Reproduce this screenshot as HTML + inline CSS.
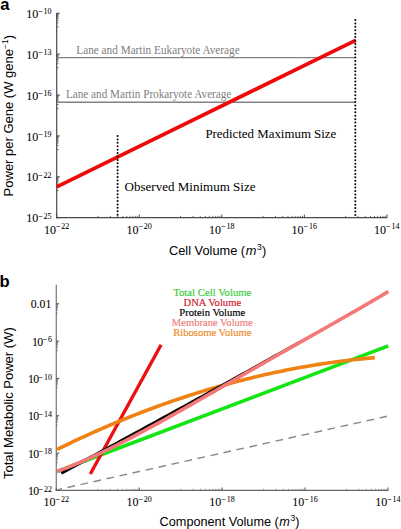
<!DOCTYPE html>
<html><head><meta charset="utf-8"><style>
html,body{margin:0;padding:0;background:#fff;}
body{width:401px;height:529px;overflow:hidden;}
svg{display:block;}
</style></head><body>
<svg width="401" height="529" viewBox="0 0 401 529">
<rect width="401" height="529" fill="#fff"/>
<line x1="56.70" y1="13.00" x2="56.70" y2="218.30" stroke="#4a4a4a" stroke-width="1.2" />
<line x1="56.10" y1="217.70" x2="387.40" y2="217.70" stroke="#4a4a4a" stroke-width="1.2" />
<line x1="56.70" y1="13.20" x2="59.90" y2="13.20" stroke="#4a4a4a" stroke-width="1.0" />
<line x1="56.70" y1="26.83" x2="58.50" y2="26.83" stroke="#4a4a4a" stroke-width="0.8" />
<line x1="56.70" y1="22.73" x2="58.50" y2="22.73" stroke="#4a4a4a" stroke-width="0.8" />
<line x1="56.70" y1="20.33" x2="58.50" y2="20.33" stroke="#4a4a4a" stroke-width="0.8" />
<line x1="56.70" y1="18.63" x2="58.50" y2="18.63" stroke="#4a4a4a" stroke-width="0.8" />
<line x1="56.70" y1="17.30" x2="58.50" y2="17.30" stroke="#4a4a4a" stroke-width="0.8" />
<line x1="56.70" y1="16.22" x2="58.50" y2="16.22" stroke="#4a4a4a" stroke-width="0.8" />
<line x1="56.70" y1="15.31" x2="58.50" y2="15.31" stroke="#4a4a4a" stroke-width="0.8" />
<line x1="56.70" y1="14.52" x2="58.50" y2="14.52" stroke="#4a4a4a" stroke-width="0.8" />
<line x1="56.70" y1="13.82" x2="58.50" y2="13.82" stroke="#4a4a4a" stroke-width="0.8" />
<text x="51.60" y="17.80" text-anchor="end" font-family='"Liberation Serif", serif' font-size="12" fill="#000" stroke="#000" stroke-width="0.05"><tspan>10</tspan><tspan dy="-3.8" font-size="8">−</tspan><tspan dx="0.9" font-size="8">10</tspan></text>
<line x1="56.70" y1="54.10" x2="59.90" y2="54.10" stroke="#4a4a4a" stroke-width="1.0" />
<line x1="56.70" y1="67.73" x2="58.50" y2="67.73" stroke="#4a4a4a" stroke-width="0.8" />
<line x1="56.70" y1="63.63" x2="58.50" y2="63.63" stroke="#4a4a4a" stroke-width="0.8" />
<line x1="56.70" y1="61.23" x2="58.50" y2="61.23" stroke="#4a4a4a" stroke-width="0.8" />
<line x1="56.70" y1="59.53" x2="58.50" y2="59.53" stroke="#4a4a4a" stroke-width="0.8" />
<line x1="56.70" y1="58.20" x2="58.50" y2="58.20" stroke="#4a4a4a" stroke-width="0.8" />
<line x1="56.70" y1="57.12" x2="58.50" y2="57.12" stroke="#4a4a4a" stroke-width="0.8" />
<line x1="56.70" y1="56.21" x2="58.50" y2="56.21" stroke="#4a4a4a" stroke-width="0.8" />
<line x1="56.70" y1="55.42" x2="58.50" y2="55.42" stroke="#4a4a4a" stroke-width="0.8" />
<line x1="56.70" y1="54.72" x2="58.50" y2="54.72" stroke="#4a4a4a" stroke-width="0.8" />
<text x="51.60" y="58.70" text-anchor="end" font-family='"Liberation Serif", serif' font-size="12" fill="#000" stroke="#000" stroke-width="0.05"><tspan>10</tspan><tspan dy="-3.8" font-size="8">−</tspan><tspan dx="0.9" font-size="8">13</tspan></text>
<line x1="56.70" y1="95.00" x2="59.90" y2="95.00" stroke="#4a4a4a" stroke-width="1.0" />
<line x1="56.70" y1="108.63" x2="58.50" y2="108.63" stroke="#4a4a4a" stroke-width="0.8" />
<line x1="56.70" y1="104.53" x2="58.50" y2="104.53" stroke="#4a4a4a" stroke-width="0.8" />
<line x1="56.70" y1="102.13" x2="58.50" y2="102.13" stroke="#4a4a4a" stroke-width="0.8" />
<line x1="56.70" y1="100.43" x2="58.50" y2="100.43" stroke="#4a4a4a" stroke-width="0.8" />
<line x1="56.70" y1="99.10" x2="58.50" y2="99.10" stroke="#4a4a4a" stroke-width="0.8" />
<line x1="56.70" y1="98.02" x2="58.50" y2="98.02" stroke="#4a4a4a" stroke-width="0.8" />
<line x1="56.70" y1="97.11" x2="58.50" y2="97.11" stroke="#4a4a4a" stroke-width="0.8" />
<line x1="56.70" y1="96.32" x2="58.50" y2="96.32" stroke="#4a4a4a" stroke-width="0.8" />
<line x1="56.70" y1="95.62" x2="58.50" y2="95.62" stroke="#4a4a4a" stroke-width="0.8" />
<text x="51.60" y="99.60" text-anchor="end" font-family='"Liberation Serif", serif' font-size="12" fill="#000" stroke="#000" stroke-width="0.05"><tspan>10</tspan><tspan dy="-3.8" font-size="8">−</tspan><tspan dx="0.9" font-size="8">16</tspan></text>
<line x1="56.70" y1="135.90" x2="59.90" y2="135.90" stroke="#4a4a4a" stroke-width="1.0" />
<line x1="56.70" y1="149.53" x2="58.50" y2="149.53" stroke="#4a4a4a" stroke-width="0.8" />
<line x1="56.70" y1="145.43" x2="58.50" y2="145.43" stroke="#4a4a4a" stroke-width="0.8" />
<line x1="56.70" y1="143.03" x2="58.50" y2="143.03" stroke="#4a4a4a" stroke-width="0.8" />
<line x1="56.70" y1="141.33" x2="58.50" y2="141.33" stroke="#4a4a4a" stroke-width="0.8" />
<line x1="56.70" y1="140.00" x2="58.50" y2="140.00" stroke="#4a4a4a" stroke-width="0.8" />
<line x1="56.70" y1="138.92" x2="58.50" y2="138.92" stroke="#4a4a4a" stroke-width="0.8" />
<line x1="56.70" y1="138.01" x2="58.50" y2="138.01" stroke="#4a4a4a" stroke-width="0.8" />
<line x1="56.70" y1="137.22" x2="58.50" y2="137.22" stroke="#4a4a4a" stroke-width="0.8" />
<line x1="56.70" y1="136.52" x2="58.50" y2="136.52" stroke="#4a4a4a" stroke-width="0.8" />
<text x="51.60" y="140.50" text-anchor="end" font-family='"Liberation Serif", serif' font-size="12" fill="#000" stroke="#000" stroke-width="0.05"><tspan>10</tspan><tspan dy="-3.8" font-size="8">−</tspan><tspan dx="0.9" font-size="8">19</tspan></text>
<line x1="56.70" y1="176.80" x2="59.90" y2="176.80" stroke="#4a4a4a" stroke-width="1.0" />
<line x1="56.70" y1="190.43" x2="58.50" y2="190.43" stroke="#4a4a4a" stroke-width="0.8" />
<line x1="56.70" y1="186.33" x2="58.50" y2="186.33" stroke="#4a4a4a" stroke-width="0.8" />
<line x1="56.70" y1="183.93" x2="58.50" y2="183.93" stroke="#4a4a4a" stroke-width="0.8" />
<line x1="56.70" y1="182.23" x2="58.50" y2="182.23" stroke="#4a4a4a" stroke-width="0.8" />
<line x1="56.70" y1="180.90" x2="58.50" y2="180.90" stroke="#4a4a4a" stroke-width="0.8" />
<line x1="56.70" y1="179.82" x2="58.50" y2="179.82" stroke="#4a4a4a" stroke-width="0.8" />
<line x1="56.70" y1="178.91" x2="58.50" y2="178.91" stroke="#4a4a4a" stroke-width="0.8" />
<line x1="56.70" y1="178.12" x2="58.50" y2="178.12" stroke="#4a4a4a" stroke-width="0.8" />
<line x1="56.70" y1="177.42" x2="58.50" y2="177.42" stroke="#4a4a4a" stroke-width="0.8" />
<text x="51.60" y="181.40" text-anchor="end" font-family='"Liberation Serif", serif' font-size="12" fill="#000" stroke="#000" stroke-width="0.05"><tspan>10</tspan><tspan dy="-3.8" font-size="8">−</tspan><tspan dx="0.9" font-size="8">22</tspan></text>
<line x1="56.70" y1="217.70" x2="59.90" y2="217.70" stroke="#4a4a4a" stroke-width="1.0" />
<text x="51.60" y="222.30" text-anchor="end" font-family='"Liberation Serif", serif' font-size="12" fill="#000" stroke="#000" stroke-width="0.05"><tspan>10</tspan><tspan dy="-3.8" font-size="8">−</tspan><tspan dx="0.9" font-size="8">25</tspan></text>
<line x1="56.70" y1="217.70" x2="56.70" y2="214.50" stroke="#4a4a4a" stroke-width="1.0" />
<text x="56.60" y="233.70" text-anchor="middle" font-family='"Liberation Serif", serif' font-size="12" fill="#000" stroke="#000" stroke-width="0.05"><tspan>10</tspan><tspan dy="-4.4" font-size="8">−</tspan><tspan dx="0.9" font-size="8">22</tspan></text>
<line x1="139.25" y1="217.70" x2="139.25" y2="214.50" stroke="#4a4a4a" stroke-width="1.0" />
<line x1="97.97" y1="217.70" x2="97.97" y2="215.90" stroke="#4a4a4a" stroke-width="0.8" />
<line x1="110.40" y1="217.70" x2="110.40" y2="215.90" stroke="#4a4a4a" stroke-width="0.8" />
<line x1="117.67" y1="217.70" x2="117.67" y2="215.90" stroke="#4a4a4a" stroke-width="0.8" />
<line x1="122.83" y1="217.70" x2="122.83" y2="215.90" stroke="#4a4a4a" stroke-width="0.8" />
<line x1="126.82" y1="217.70" x2="126.82" y2="215.90" stroke="#4a4a4a" stroke-width="0.8" />
<line x1="130.09" y1="217.70" x2="130.09" y2="215.90" stroke="#4a4a4a" stroke-width="0.8" />
<line x1="132.86" y1="217.70" x2="132.86" y2="215.90" stroke="#4a4a4a" stroke-width="0.8" />
<line x1="135.25" y1="217.70" x2="135.25" y2="215.90" stroke="#4a4a4a" stroke-width="0.8" />
<line x1="137.36" y1="217.70" x2="137.36" y2="215.90" stroke="#4a4a4a" stroke-width="0.8" />
<text x="139.15" y="233.70" text-anchor="middle" font-family='"Liberation Serif", serif' font-size="12" fill="#000" stroke="#000" stroke-width="0.05"><tspan>10</tspan><tspan dy="-4.4" font-size="8">−</tspan><tspan dx="0.9" font-size="8">20</tspan></text>
<line x1="221.80" y1="217.70" x2="221.80" y2="214.50" stroke="#4a4a4a" stroke-width="1.0" />
<line x1="180.52" y1="217.70" x2="180.52" y2="215.90" stroke="#4a4a4a" stroke-width="0.8" />
<line x1="192.95" y1="217.70" x2="192.95" y2="215.90" stroke="#4a4a4a" stroke-width="0.8" />
<line x1="200.22" y1="217.70" x2="200.22" y2="215.90" stroke="#4a4a4a" stroke-width="0.8" />
<line x1="205.38" y1="217.70" x2="205.38" y2="215.90" stroke="#4a4a4a" stroke-width="0.8" />
<line x1="209.37" y1="217.70" x2="209.37" y2="215.90" stroke="#4a4a4a" stroke-width="0.8" />
<line x1="212.64" y1="217.70" x2="212.64" y2="215.90" stroke="#4a4a4a" stroke-width="0.8" />
<line x1="215.41" y1="217.70" x2="215.41" y2="215.90" stroke="#4a4a4a" stroke-width="0.8" />
<line x1="217.80" y1="217.70" x2="217.80" y2="215.90" stroke="#4a4a4a" stroke-width="0.8" />
<line x1="219.91" y1="217.70" x2="219.91" y2="215.90" stroke="#4a4a4a" stroke-width="0.8" />
<text x="221.70" y="233.70" text-anchor="middle" font-family='"Liberation Serif", serif' font-size="12" fill="#000" stroke="#000" stroke-width="0.05"><tspan>10</tspan><tspan dy="-4.4" font-size="8">−</tspan><tspan dx="0.9" font-size="8">18</tspan></text>
<line x1="304.35" y1="217.70" x2="304.35" y2="214.50" stroke="#4a4a4a" stroke-width="1.0" />
<line x1="263.07" y1="217.70" x2="263.07" y2="215.90" stroke="#4a4a4a" stroke-width="0.8" />
<line x1="275.50" y1="217.70" x2="275.50" y2="215.90" stroke="#4a4a4a" stroke-width="0.8" />
<line x1="282.77" y1="217.70" x2="282.77" y2="215.90" stroke="#4a4a4a" stroke-width="0.8" />
<line x1="287.93" y1="217.70" x2="287.93" y2="215.90" stroke="#4a4a4a" stroke-width="0.8" />
<line x1="291.92" y1="217.70" x2="291.92" y2="215.90" stroke="#4a4a4a" stroke-width="0.8" />
<line x1="295.19" y1="217.70" x2="295.19" y2="215.90" stroke="#4a4a4a" stroke-width="0.8" />
<line x1="297.96" y1="217.70" x2="297.96" y2="215.90" stroke="#4a4a4a" stroke-width="0.8" />
<line x1="300.35" y1="217.70" x2="300.35" y2="215.90" stroke="#4a4a4a" stroke-width="0.8" />
<line x1="302.46" y1="217.70" x2="302.46" y2="215.90" stroke="#4a4a4a" stroke-width="0.8" />
<text x="304.25" y="233.70" text-anchor="middle" font-family='"Liberation Serif", serif' font-size="12" fill="#000" stroke="#000" stroke-width="0.05"><tspan>10</tspan><tspan dy="-4.4" font-size="8">−</tspan><tspan dx="0.9" font-size="8">16</tspan></text>
<line x1="386.90" y1="217.70" x2="386.90" y2="214.50" stroke="#4a4a4a" stroke-width="1.0" />
<line x1="345.62" y1="217.70" x2="345.62" y2="215.90" stroke="#4a4a4a" stroke-width="0.8" />
<line x1="358.05" y1="217.70" x2="358.05" y2="215.90" stroke="#4a4a4a" stroke-width="0.8" />
<line x1="365.32" y1="217.70" x2="365.32" y2="215.90" stroke="#4a4a4a" stroke-width="0.8" />
<line x1="370.48" y1="217.70" x2="370.48" y2="215.90" stroke="#4a4a4a" stroke-width="0.8" />
<line x1="374.47" y1="217.70" x2="374.47" y2="215.90" stroke="#4a4a4a" stroke-width="0.8" />
<line x1="377.74" y1="217.70" x2="377.74" y2="215.90" stroke="#4a4a4a" stroke-width="0.8" />
<line x1="380.51" y1="217.70" x2="380.51" y2="215.90" stroke="#4a4a4a" stroke-width="0.8" />
<line x1="382.90" y1="217.70" x2="382.90" y2="215.90" stroke="#4a4a4a" stroke-width="0.8" />
<line x1="385.01" y1="217.70" x2="385.01" y2="215.90" stroke="#4a4a4a" stroke-width="0.8" />
<text x="386.80" y="233.70" text-anchor="middle" font-family='"Liberation Serif", serif' font-size="12" fill="#000" stroke="#000" stroke-width="0.05"><tspan>10</tspan><tspan dy="-4.4" font-size="8">−</tspan><tspan dx="0.9" font-size="8">14</tspan></text>
<line x1="57.20" y1="57.60" x2="355.30" y2="57.60" stroke="#828282" stroke-width="1.4" />
<line x1="57.20" y1="102.30" x2="355.30" y2="102.30" stroke="#828282" stroke-width="1.4" />
<line x1="56.70" y1="186.90" x2="355.60" y2="40.30" stroke="#ee0a0a" stroke-width="3.7" />
<line x1="117.6" y1="136" x2="117.6" y2="217.6" stroke="#000" stroke-width="2.0" stroke-linecap="round" stroke-dasharray="0 3.42"/>
<line x1="355.3" y1="20" x2="355.3" y2="217.6" stroke="#000" stroke-width="2.0" stroke-linecap="round" stroke-dasharray="0 3.42"/>
<text x="76.3" y="53.5" font-family='"Liberation Serif", serif' font-size="11.8" fill="#808080" textLength="163.4" lengthAdjust="spacingAndGlyphs">Lane and Martin Eukaryote Average</text>
<text x="66.0" y="97.9" font-family='"Liberation Serif", serif' font-size="11.8" fill="#808080" textLength="165.3" lengthAdjust="spacingAndGlyphs">Lane and Martin Prokaryote Average</text>
<text x="205.4" y="138.0" font-family='"Liberation Serif", serif' font-size="12.9" fill="#000" textLength="130.9" lengthAdjust="spacingAndGlyphs">Predicted Maximum Size</text>
<text x="124.6" y="191.4" font-family='"Liberation Serif", serif' font-size="12.9" fill="#000" textLength="130.9" lengthAdjust="spacingAndGlyphs">Observed Minimum Size</text>
<text x="169.0" y="254.8" font-family='"Liberation Sans", sans-serif' font-size="12.8" fill="#000">Cell Volume (<tspan dx="0.6" font-style="italic">m</tspan><tspan dx="0.7" dy="-4.8" font-size="8.5">3</tspan><tspan dx="0.3" dy="4.8">)</tspan></text>
<text transform="translate(12.9,196.4) rotate(-90)" x="0" y="0" font-family='"Liberation Sans", sans-serif' font-size="13" fill="#000">Power per Gene (W gene<tspan dy="-4.8" font-size="8.5">−1</tspan><tspan dy="4.8">)</tspan></text>
<text x="0.2" y="9.8" font-family='"Liberation Sans", sans-serif' font-weight="bold" font-size="16.6">a</text>
<line x1="56.30" y1="284.80" x2="56.30" y2="491.05" stroke="#808080" stroke-width="1.3" />
<line x1="55.70" y1="490.45" x2="388.40" y2="490.45" stroke="#686868" stroke-width="1.3" />
<line x1="56.30" y1="303.80" x2="59.30" y2="303.80" stroke="#555" stroke-width="1.0" />
<line x1="56.30" y1="313.13" x2="57.90" y2="313.13" stroke="#666" stroke-width="0.7" />
<line x1="56.30" y1="310.32" x2="57.90" y2="310.32" stroke="#666" stroke-width="0.7" />
<line x1="56.30" y1="308.68" x2="57.90" y2="308.68" stroke="#666" stroke-width="0.7" />
<line x1="56.30" y1="307.51" x2="57.90" y2="307.51" stroke="#666" stroke-width="0.7" />
<line x1="56.30" y1="306.61" x2="57.90" y2="306.61" stroke="#666" stroke-width="0.7" />
<line x1="56.30" y1="305.87" x2="57.90" y2="305.87" stroke="#666" stroke-width="0.7" />
<line x1="56.30" y1="305.25" x2="57.90" y2="305.25" stroke="#666" stroke-width="0.7" />
<line x1="56.30" y1="304.70" x2="57.90" y2="304.70" stroke="#666" stroke-width="0.7" />
<line x1="56.30" y1="304.23" x2="57.90" y2="304.23" stroke="#666" stroke-width="0.7" />
<text x="51.30" y="307.60" text-anchor="end" font-family='"Liberation Serif", serif' font-size="11.8" stroke="#000" stroke-width="0.05">0.01</text>
<line x1="56.30" y1="341.13" x2="59.30" y2="341.13" stroke="#555" stroke-width="1.0" />
<line x1="56.30" y1="350.46" x2="57.90" y2="350.46" stroke="#666" stroke-width="0.7" />
<line x1="56.30" y1="347.65" x2="57.90" y2="347.65" stroke="#666" stroke-width="0.7" />
<line x1="56.30" y1="346.01" x2="57.90" y2="346.01" stroke="#666" stroke-width="0.7" />
<line x1="56.30" y1="344.84" x2="57.90" y2="344.84" stroke="#666" stroke-width="0.7" />
<line x1="56.30" y1="343.94" x2="57.90" y2="343.94" stroke="#666" stroke-width="0.7" />
<line x1="56.30" y1="343.20" x2="57.90" y2="343.20" stroke="#666" stroke-width="0.7" />
<line x1="56.30" y1="342.58" x2="57.90" y2="342.58" stroke="#666" stroke-width="0.7" />
<line x1="56.30" y1="342.03" x2="57.90" y2="342.03" stroke="#666" stroke-width="0.7" />
<line x1="56.30" y1="341.56" x2="57.90" y2="341.56" stroke="#666" stroke-width="0.7" />
<text x="51.90" y="345.73" text-anchor="end" font-family='"Liberation Serif", serif' font-size="11.8" fill="#000" stroke="#000" stroke-width="0.05"><tspan letter-spacing="-0.6">10</tspan><tspan dy="-3.4" font-size="8">−</tspan><tspan dx="0.9" font-size="8">6</tspan></text>
<line x1="56.30" y1="378.46" x2="59.30" y2="378.46" stroke="#555" stroke-width="1.0" />
<line x1="56.30" y1="387.79" x2="57.90" y2="387.79" stroke="#666" stroke-width="0.7" />
<line x1="56.30" y1="384.98" x2="57.90" y2="384.98" stroke="#666" stroke-width="0.7" />
<line x1="56.30" y1="383.34" x2="57.90" y2="383.34" stroke="#666" stroke-width="0.7" />
<line x1="56.30" y1="382.17" x2="57.90" y2="382.17" stroke="#666" stroke-width="0.7" />
<line x1="56.30" y1="381.27" x2="57.90" y2="381.27" stroke="#666" stroke-width="0.7" />
<line x1="56.30" y1="380.53" x2="57.90" y2="380.53" stroke="#666" stroke-width="0.7" />
<line x1="56.30" y1="379.91" x2="57.90" y2="379.91" stroke="#666" stroke-width="0.7" />
<line x1="56.30" y1="379.36" x2="57.90" y2="379.36" stroke="#666" stroke-width="0.7" />
<line x1="56.30" y1="378.89" x2="57.90" y2="378.89" stroke="#666" stroke-width="0.7" />
<text x="51.90" y="383.06" text-anchor="end" font-family='"Liberation Serif", serif' font-size="11.8" fill="#000" stroke="#000" stroke-width="0.05"><tspan letter-spacing="-0.6">10</tspan><tspan dy="-3.4" font-size="8">−</tspan><tspan dx="0.9" font-size="8">10</tspan></text>
<line x1="56.30" y1="415.79" x2="59.30" y2="415.79" stroke="#555" stroke-width="1.0" />
<line x1="56.30" y1="425.12" x2="57.90" y2="425.12" stroke="#666" stroke-width="0.7" />
<line x1="56.30" y1="422.31" x2="57.90" y2="422.31" stroke="#666" stroke-width="0.7" />
<line x1="56.30" y1="420.67" x2="57.90" y2="420.67" stroke="#666" stroke-width="0.7" />
<line x1="56.30" y1="419.50" x2="57.90" y2="419.50" stroke="#666" stroke-width="0.7" />
<line x1="56.30" y1="418.60" x2="57.90" y2="418.60" stroke="#666" stroke-width="0.7" />
<line x1="56.30" y1="417.86" x2="57.90" y2="417.86" stroke="#666" stroke-width="0.7" />
<line x1="56.30" y1="417.24" x2="57.90" y2="417.24" stroke="#666" stroke-width="0.7" />
<line x1="56.30" y1="416.69" x2="57.90" y2="416.69" stroke="#666" stroke-width="0.7" />
<line x1="56.30" y1="416.22" x2="57.90" y2="416.22" stroke="#666" stroke-width="0.7" />
<text x="51.90" y="420.39" text-anchor="end" font-family='"Liberation Serif", serif' font-size="11.8" fill="#000" stroke="#000" stroke-width="0.05"><tspan letter-spacing="-0.6">10</tspan><tspan dy="-3.4" font-size="8">−</tspan><tspan dx="0.9" font-size="8">14</tspan></text>
<line x1="56.30" y1="453.12" x2="59.30" y2="453.12" stroke="#555" stroke-width="1.0" />
<line x1="56.30" y1="462.45" x2="57.90" y2="462.45" stroke="#666" stroke-width="0.7" />
<line x1="56.30" y1="459.64" x2="57.90" y2="459.64" stroke="#666" stroke-width="0.7" />
<line x1="56.30" y1="458.00" x2="57.90" y2="458.00" stroke="#666" stroke-width="0.7" />
<line x1="56.30" y1="456.83" x2="57.90" y2="456.83" stroke="#666" stroke-width="0.7" />
<line x1="56.30" y1="455.93" x2="57.90" y2="455.93" stroke="#666" stroke-width="0.7" />
<line x1="56.30" y1="455.19" x2="57.90" y2="455.19" stroke="#666" stroke-width="0.7" />
<line x1="56.30" y1="454.57" x2="57.90" y2="454.57" stroke="#666" stroke-width="0.7" />
<line x1="56.30" y1="454.02" x2="57.90" y2="454.02" stroke="#666" stroke-width="0.7" />
<line x1="56.30" y1="453.55" x2="57.90" y2="453.55" stroke="#666" stroke-width="0.7" />
<text x="51.90" y="457.72" text-anchor="end" font-family='"Liberation Serif", serif' font-size="11.8" fill="#000" stroke="#000" stroke-width="0.05"><tspan letter-spacing="-0.6">10</tspan><tspan dy="-3.4" font-size="8">−</tspan><tspan dx="0.9" font-size="8">18</tspan></text>
<line x1="56.30" y1="490.45" x2="59.30" y2="490.45" stroke="#555" stroke-width="1.0" />
<text x="51.90" y="495.05" text-anchor="end" font-family='"Liberation Serif", serif' font-size="11.8" fill="#000" stroke="#000" stroke-width="0.05"><tspan letter-spacing="-0.6">10</tspan><tspan dy="-3.4" font-size="8">−</tspan><tspan dx="0.9" font-size="8">22</tspan></text>
<line x1="56.30" y1="490.45" x2="56.30" y2="487.45" stroke="#555" stroke-width="1.0" />
<text x="56.20" y="506.20" text-anchor="middle" font-family='"Liberation Serif", serif' font-size="12" fill="#000" stroke="#000" stroke-width="0.05"><tspan>10</tspan><tspan dy="-4.4" font-size="8">−</tspan><tspan dx="0.9" font-size="8">22</tspan></text>
<line x1="139.22" y1="490.45" x2="139.22" y2="487.45" stroke="#555" stroke-width="1.0" />
<line x1="97.76" y1="490.45" x2="97.76" y2="488.85" stroke="#666" stroke-width="0.7" />
<line x1="110.24" y1="490.45" x2="110.24" y2="488.85" stroke="#666" stroke-width="0.7" />
<line x1="117.55" y1="490.45" x2="117.55" y2="488.85" stroke="#666" stroke-width="0.7" />
<line x1="122.73" y1="490.45" x2="122.73" y2="488.85" stroke="#666" stroke-width="0.7" />
<line x1="126.74" y1="490.45" x2="126.74" y2="488.85" stroke="#666" stroke-width="0.7" />
<line x1="130.03" y1="490.45" x2="130.03" y2="488.85" stroke="#666" stroke-width="0.7" />
<line x1="132.80" y1="490.45" x2="132.80" y2="488.85" stroke="#666" stroke-width="0.7" />
<line x1="135.21" y1="490.45" x2="135.21" y2="488.85" stroke="#666" stroke-width="0.7" />
<line x1="137.33" y1="490.45" x2="137.33" y2="488.85" stroke="#666" stroke-width="0.7" />
<text x="139.12" y="506.20" text-anchor="middle" font-family='"Liberation Serif", serif' font-size="12" fill="#000" stroke="#000" stroke-width="0.05"><tspan>10</tspan><tspan dy="-4.4" font-size="8">−</tspan><tspan dx="0.9" font-size="8">20</tspan></text>
<line x1="222.15" y1="490.45" x2="222.15" y2="487.45" stroke="#555" stroke-width="1.0" />
<line x1="180.69" y1="490.45" x2="180.69" y2="488.85" stroke="#666" stroke-width="0.7" />
<line x1="193.17" y1="490.45" x2="193.17" y2="488.85" stroke="#666" stroke-width="0.7" />
<line x1="200.47" y1="490.45" x2="200.47" y2="488.85" stroke="#666" stroke-width="0.7" />
<line x1="205.65" y1="490.45" x2="205.65" y2="488.85" stroke="#666" stroke-width="0.7" />
<line x1="209.67" y1="490.45" x2="209.67" y2="488.85" stroke="#666" stroke-width="0.7" />
<line x1="212.95" y1="490.45" x2="212.95" y2="488.85" stroke="#666" stroke-width="0.7" />
<line x1="215.73" y1="490.45" x2="215.73" y2="488.85" stroke="#666" stroke-width="0.7" />
<line x1="218.13" y1="490.45" x2="218.13" y2="488.85" stroke="#666" stroke-width="0.7" />
<line x1="220.25" y1="490.45" x2="220.25" y2="488.85" stroke="#666" stroke-width="0.7" />
<text x="222.05" y="506.20" text-anchor="middle" font-family='"Liberation Serif", serif' font-size="12" fill="#000" stroke="#000" stroke-width="0.05"><tspan>10</tspan><tspan dy="-4.4" font-size="8">−</tspan><tspan dx="0.9" font-size="8">18</tspan></text>
<line x1="305.07" y1="490.45" x2="305.07" y2="487.45" stroke="#555" stroke-width="1.0" />
<line x1="263.61" y1="490.45" x2="263.61" y2="488.85" stroke="#666" stroke-width="0.7" />
<line x1="276.09" y1="490.45" x2="276.09" y2="488.85" stroke="#666" stroke-width="0.7" />
<line x1="283.40" y1="490.45" x2="283.40" y2="488.85" stroke="#666" stroke-width="0.7" />
<line x1="288.58" y1="490.45" x2="288.58" y2="488.85" stroke="#666" stroke-width="0.7" />
<line x1="292.59" y1="490.45" x2="292.59" y2="488.85" stroke="#666" stroke-width="0.7" />
<line x1="295.88" y1="490.45" x2="295.88" y2="488.85" stroke="#666" stroke-width="0.7" />
<line x1="298.65" y1="490.45" x2="298.65" y2="488.85" stroke="#666" stroke-width="0.7" />
<line x1="301.06" y1="490.45" x2="301.06" y2="488.85" stroke="#666" stroke-width="0.7" />
<line x1="303.18" y1="490.45" x2="303.18" y2="488.85" stroke="#666" stroke-width="0.7" />
<text x="304.98" y="506.20" text-anchor="middle" font-family='"Liberation Serif", serif' font-size="12" fill="#000" stroke="#000" stroke-width="0.05"><tspan>10</tspan><tspan dy="-4.4" font-size="8">−</tspan><tspan dx="0.9" font-size="8">16</tspan></text>
<line x1="388.00" y1="490.45" x2="388.00" y2="487.45" stroke="#555" stroke-width="1.0" />
<line x1="346.54" y1="490.45" x2="346.54" y2="488.85" stroke="#666" stroke-width="0.7" />
<line x1="359.02" y1="490.45" x2="359.02" y2="488.85" stroke="#666" stroke-width="0.7" />
<line x1="366.32" y1="490.45" x2="366.32" y2="488.85" stroke="#666" stroke-width="0.7" />
<line x1="371.50" y1="490.45" x2="371.50" y2="488.85" stroke="#666" stroke-width="0.7" />
<line x1="375.52" y1="490.45" x2="375.52" y2="488.85" stroke="#666" stroke-width="0.7" />
<line x1="378.80" y1="490.45" x2="378.80" y2="488.85" stroke="#666" stroke-width="0.7" />
<line x1="381.58" y1="490.45" x2="381.58" y2="488.85" stroke="#666" stroke-width="0.7" />
<line x1="383.98" y1="490.45" x2="383.98" y2="488.85" stroke="#666" stroke-width="0.7" />
<line x1="386.10" y1="490.45" x2="386.10" y2="488.85" stroke="#666" stroke-width="0.7" />
<text x="387.90" y="506.20" text-anchor="middle" font-family='"Liberation Serif", serif' font-size="12" fill="#000" stroke="#000" stroke-width="0.05"><tspan>10</tspan><tspan dy="-4.4" font-size="8">−</tspan><tspan dx="0.9" font-size="8">14</tspan></text>
<line x1="58" y1="489.6" x2="387" y2="416.3" stroke="#8a8a8a" stroke-width="1.45" stroke-dasharray="7.7 5.62" stroke-dashoffset="3.59"/>
<line x1="57.00" y1="471.50" x2="388.30" y2="345.90" stroke="#12e612" stroke-width="3.6" />
<line x1="90.30" y1="474.05" x2="161.10" y2="344.80" stroke="#ee1010" stroke-width="3.4" />
<path d="M57.00,449.48 L59.67,448.17 L62.34,446.86 L65.01,445.57 L67.68,444.28 L70.35,443.01 L73.02,441.74 L75.69,440.48 L78.36,439.23 L81.04,437.99 L83.71,436.76 L86.38,435.54 L89.05,434.33 L91.72,433.13 L94.39,431.93 L97.06,430.75 L99.73,429.57 L102.40,428.41 L105.07,427.25 L107.74,426.10 L110.41,424.96 L113.08,423.83 L115.75,422.71 L118.42,421.60 L121.09,420.50 L123.76,419.41 L126.44,418.32 L129.11,417.25 L131.78,416.18 L134.45,415.13 L137.12,414.08 L139.79,413.04 L142.46,412.01 L145.13,410.99 L147.80,409.98 L150.47,408.98 L153.14,407.99 L155.81,407.01 L158.48,406.03 L161.15,405.07 L163.82,404.11 L166.49,403.17 L169.16,402.23 L171.84,401.30 L174.51,400.38 L177.18,399.47 L179.85,398.57 L182.52,397.68 L185.19,396.80 L187.86,395.93 L190.53,395.07 L193.20,394.21 L195.87,393.37 L198.54,392.53 L201.21,391.70 L203.88,390.88 L206.55,390.08 L209.22,389.28 L211.89,388.49 L214.56,387.71 L217.24,386.93 L219.91,386.17 L222.58,385.42 L225.25,384.67 L227.92,383.94 L230.59,383.21 L233.26,382.50 L235.93,381.79 L238.60,381.09 L241.27,380.40 L243.94,379.72 L246.61,379.05 L249.28,378.39 L251.95,377.74 L254.62,377.09 L257.29,376.46 L259.96,375.83 L262.64,375.22 L265.31,374.61 L267.98,374.01 L270.65,373.42 L273.32,372.85 L275.99,372.28 L278.66,371.71 L281.33,371.16 L284.00,370.62 L286.67,370.09 L289.34,369.56 L292.01,369.05 L294.68,368.54 L297.35,368.05 L300.02,367.56 L302.69,367.08 L305.36,366.61 L308.04,366.15 L310.71,365.70 L313.38,365.26 L316.05,364.83 L318.72,364.40 L321.39,363.99 L324.06,363.58 L326.73,363.19 L329.40,362.80 L332.07,362.43 L334.74,362.06 L337.41,361.70 L340.08,361.35 L342.75,361.01 L345.42,360.68 L348.09,360.35 L350.76,360.04 L353.44,359.74 L356.11,359.44 L358.78,359.16 L361.45,358.88 L364.12,358.61 L366.79,358.35 L369.46,358.11 L372.13,357.87 L374.80,357.64" fill="none" stroke="#f08214" stroke-width="3.6"/>
<path d="M61.20,473.19 L66.07,470.57 L70.95,467.95 L75.82,465.33 L80.69,462.70 L85.57,460.07 L90.44,457.44 L95.31,454.81 L100.19,452.17 L105.06,449.53 L109.93,446.89 L114.81,444.25 L119.68,441.61 L124.56,438.96 L129.43,436.31 L134.30,433.66 L139.18,431.00 L144.05,428.34 L148.92,425.68 L153.80,423.02 L158.67,420.36 L163.54,417.69 L168.42,415.02 L173.29,412.35 L178.16,409.68 L183.04,407.00 L187.91,404.32 L192.78,401.64 L197.66,398.96 L202.53,396.27 L207.40,393.58 L212.28,390.89 L217.15,388.20 L222.02,385.51 L226.90,382.81 L231.77,380.11 L236.64,377.41 L241.52,374.70 L246.39,371.99 L251.27,369.28 L256.14,366.57 L261.01,363.86 L265.89,361.14 L270.76,358.42 L275.63,355.71 L280.51,353.01 L285.38,350.31 L290.25,347.61 L295.13,344.92 L300.00,342.22" fill="none" stroke="#000" stroke-width="3.1"/>
<path d="M57.00,471.50 L59.78,470.48 L62.57,469.43 L65.35,468.36 L68.14,467.27 L70.92,466.15 L73.71,465.01 L76.49,463.86 L79.28,462.68 L82.06,461.48 L84.85,460.26 L87.63,459.02 L90.42,457.77 L93.20,456.49 L95.99,455.21 L98.77,453.90 L101.56,452.58 L104.34,451.24 L107.13,449.89 L109.91,448.52 L112.70,447.14 L115.48,445.75 L118.27,444.35 L121.05,442.93 L123.84,441.50 L126.62,440.06 L129.41,438.61 L132.19,437.15 L134.98,435.68 L137.76,434.20 L140.55,432.71 L143.33,431.21 L146.12,429.70 L148.90,428.19 L151.69,426.67 L154.47,425.14 L157.26,423.61 L160.04,422.07 L162.83,420.52 L165.61,418.97 L168.39,417.42 L171.18,415.86 L173.96,414.29 L176.75,412.72 L179.53,411.15 L182.32,409.57 L185.10,407.99 L187.89,406.41 L190.67,404.82 L193.46,403.24 L196.24,401.65 L199.03,400.05 L201.81,398.46 L204.60,396.87 L207.38,395.27 L210.17,393.67 L212.95,392.07 L215.74,390.48 L218.52,388.88 L221.31,387.28 L224.09,385.68 L226.88,384.08 L229.66,382.48 L232.45,380.88 L235.23,379.28 L238.02,377.68 L240.80,376.08 L243.59,374.48 L246.37,372.89 L249.16,371.29 L251.94,369.70 L254.73,368.10 L257.51,366.51 L260.30,364.92 L263.08,363.33 L265.87,361.74 L268.65,360.15 L271.44,358.56 L274.22,356.98 L277.01,355.39 L279.79,353.81 L282.57,352.22 L285.36,350.64 L288.14,349.06 L290.93,347.48 L293.71,345.90 L296.50,344.32 L299.28,342.74 L302.07,341.16 L304.85,339.58 L307.64,338.01 L310.42,336.43 L313.21,334.85 L315.99,333.28 L318.78,331.70 L321.56,330.12 L324.35,328.54 L327.13,326.96 L329.92,325.38 L332.70,323.80 L335.49,322.21 L338.27,320.63 L341.06,319.04 L343.84,317.45 L346.63,315.86 L349.41,314.27 L352.20,312.67 L354.98,311.07 L357.77,309.47 L360.55,307.86 L363.34,306.25 L366.12,304.63 L368.91,303.01 L371.69,301.39 L374.48,299.76 L377.26,298.12 L380.05,296.48 L382.83,294.83 L385.62,293.17 L388.40,291.51" fill="none" stroke="#f47878" stroke-width="3.6"/>
<text x="173.20" y="295.5" font-family='"Liberation Serif", serif' font-size="10.6" fill="#3ccc3c" stroke="#3ccc3c" stroke-width="0.18" textLength="78.2" lengthAdjust="spacingAndGlyphs">Total Cell Volume</text>
<text x="183.50" y="305.5" font-family='"Liberation Serif", serif' font-size="10.6" fill="#d0202e" stroke="#d0202e" stroke-width="0.18" textLength="57.6" lengthAdjust="spacingAndGlyphs">DNA Volume</text>
<text x="179.30" y="315.7" font-family='"Liberation Serif", serif' font-size="10.6" fill="#000" stroke="#000" stroke-width="0.18" textLength="66.0" lengthAdjust="spacingAndGlyphs">Protein Volume</text>
<text x="171.80" y="326.0" font-family='"Liberation Serif", serif' font-size="10.6" fill="#f08080" stroke="#f08080" stroke-width="0.18" textLength="81.0" lengthAdjust="spacingAndGlyphs">Membrane Volume</text>
<text x="173.20" y="336.1" font-family='"Liberation Serif", serif' font-size="10.6" fill="#ec8a2a" stroke="#ec8a2a" stroke-width="0.18" textLength="78.2" lengthAdjust="spacingAndGlyphs">Ribosome Volume</text>
<text x="159.6" y="525.5" font-family='"Liberation Sans", sans-serif' font-size="12.7" fill="#000">Component Volume (<tspan dx="0.5" font-style="italic">m</tspan><tspan dx="0.6" dy="-4.8" font-size="8.5">3</tspan><tspan dy="4.8">)</tspan></text>
<text transform="translate(12.9,479.0) rotate(-90)" x="0" y="0" font-family='"Liberation Sans", sans-serif' font-size="13" fill="#000">Total Metabolic Power (W)</text>
<text x="-0.4" y="286.9" font-family='"Liberation Sans", sans-serif' font-weight="bold" font-size="16.6">b</text>
</svg>
</body></html>
